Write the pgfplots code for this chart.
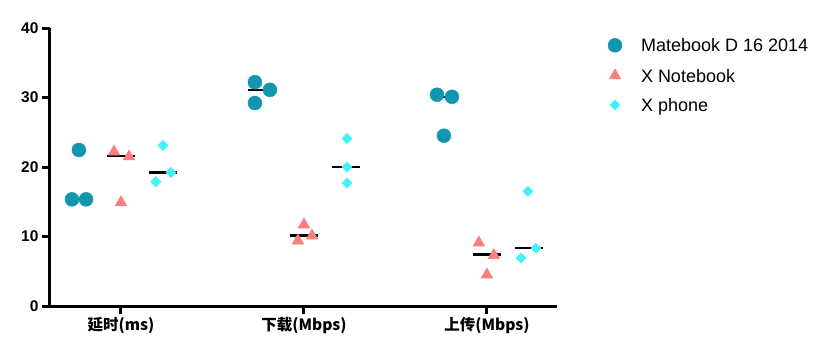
\documentclass[border=0pt]{standalone}
\usepackage{fontspec}
\setmainfont{Liberation Sans}
\newfontfamily\cjk{Noto Sans CJK SC}
\usepackage{pgfplots}
\pgfplotsset{compat=1.18}
\definecolor{cteal}{RGB}{18,150,175}
\definecolor{csalmon}{RGB}{250,128,128}
\definecolor{ccyan}{RGB}{64,242,250}

\begin{document}
\begin{tikzpicture}
\path[use as bounding box] (-50pt,-48pt) rectangle (778pt,306pt);
\begin{axis}[
  at={(0pt,0pt)}, anchor=south west,
  scale only axis, width=507pt, height=278pt,
  xmin=-0.388, xmax=2.383, ymin=0, ymax=40,
  axis lines*=left,
  axis line style={line width=3pt, black},
  xtick={0,1,2},
  xticklabels={{\cjk\bfseries 延时(ms)},{\cjk\bfseries 下载(Mbps)},{\cjk\bfseries 上传(Mbps)}},
  ytick={0,10,20,30,40},
  tick align=outside,
  major tick length=8pt,
  major tick style={line width=3pt, black},
  /pgf/number format/assume math mode=true,
  yticklabel style={font=\bfseries\fontsize{15.5}{15.5}\selectfont},
  xticklabel style={font=\fontsize{15.5}{15.5}\selectfont},
  clip=false,
  legend style={at={(axis description cs:1.1006,0.963)}, anchor=north west,
    draw=none, fill=none, inner sep=0pt, outer sep=0pt,
    font=\fontsize{18}{18}\selectfont,
    row sep=16.5pt, column sep=19pt,
    nodes={inner sep=0pt, text height=13pt, text depth=0pt},
    cells={anchor=west}},
  legend image code/.code={\draw[#1] plot coordinates {(0pt,0pt)};},
]
% median lines
\addplot[black, line width=2.2pt, forget plot, unbounded coords=jump] coordinates {
  (-0.307,15.35) (-0.153,15.35) (-0.2,nan)
  (-0.077,21.6) (0.077,21.6) (0.1,nan)
  (0.153,19.2) (0.307,19.2) (0.4,nan)
  (0.693,31.05) (0.847,31.05) (0.9,nan)
  (0.923,10.15) (1.077,10.15) (1.1,nan)
  (1.153,20.0) (1.307,20.0) (1.4,nan)
  (1.693,30.1) (1.847,30.1) (1.9,nan)
  (1.923,7.4) (2.077,7.4) (2.1,nan)
  (2.153,8.3) (2.307,8.3)
};
% Matebook D 16 2014
\addplot[only marks, mark=*, mark size=7pt, color=cteal] coordinates {
  (-0.268,15.35) (-0.191,15.35) (-0.230,22.45)
  (0.732,32.2) (0.814,31.1) (0.732,29.2)
  (1.727,30.4) (1.809,30.1) (1.765,24.5)
};
% X Notebook
\addplot[only marks, mark=triangle*, mark size=6.8pt, color=csalmon] coordinates {
  (-0.038,22.2) (0.044,21.5) (0.0,14.9)
  (1.0,11.7) (0.967,9.4) (1.044,10.1)
  (1.956,9.1) (2.038,7.3) (2.0,4.5)
};
% X phone
\addplot[only marks, mark=square*, mark size=3.6pt, mark options={rotate=45}, color=ccyan] coordinates {
  (0.191,17.9) (0.273,19.2) (0.230,23.1)
  (1.235,24.1) (1.235,20.0) (1.235,17.7)
  (2.224,16.5) (2.268,8.3) (2.186,6.9)
};
\legend{Matebook D 16 2014, X Notebook, X phone}
\end{axis}
\end{tikzpicture}
\end{document}
